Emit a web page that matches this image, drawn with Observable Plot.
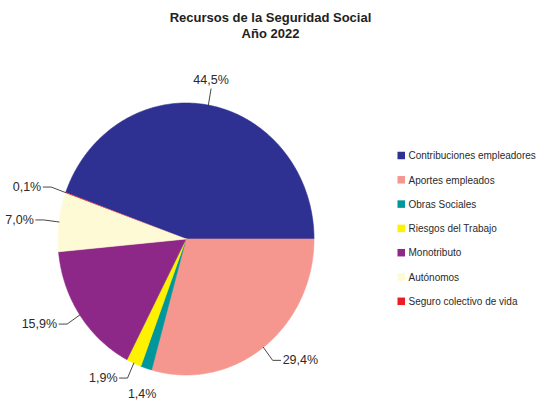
<!DOCTYPE html>
<html><head><meta charset="utf-8">
<script src="https://cdn.jsdelivr.net/npm/d3@7"></script>
<script src="https://cdn.jsdelivr.net/npm/@observablehq/plot@0.6"></script>
<style>
html,body{margin:0;padding:0;background:#fff;}
#chart svg{display:block;}
</style></head><body><div id="chart"></div>
<script>
// ---- data ----
const titleLines = ["Recursos de la Seguridad Social", "Año 2022"];
const categories = ["Contribuciones empleadores", "Aportes empleados", "Obras Sociales", "Riesgos del Trabajo", "Monotributo", "Autónomos", "Seguro colectivo de vida"];
const shares = [44.5, 29.4, 1.4, 1.9, 15.9, 7.0, 0.1];
const palette = ["#2E3192", "#F5978E", "#00969C", "#FFF200", "#8E2888", "#FFFAD6", "#ED1C24"];

// ---- layout ----
const W = 546, H = 403;
const cx = 185.5, cy = 238.5, rx = 128, ry = 136;
const font = "'Liberation Sans', Arial, sans-serif";
const fmt = v => v.toFixed(1).replace(".", ",") + "%";

const total = d3.sum(shares);
// first slice (Contribuciones) ends at 3 o'clock, slices run clockwise
const start = Math.PI / 2 - 2 * Math.PI * shares[0] / total;
const arcs = d3.pie().sort(null).value(d => d).startAngle(start).endAngle(start + 2 * Math.PI)(shares);
const pt = (a, k = 1) => ({x: cx + k * rx * Math.sin(a), y: cy - k * ry * Math.cos(a)});

const slices = arcs.map(a => {
  const pts = [{x: cx, y: cy}];
  const n = Math.max(2, Math.ceil((a.endAngle - a.startAngle) / (Math.PI / 360)));
  for (let j = 0; j <= n; j++) pts.push(pt(a.startAngle + (a.endAngle - a.startAngle) * j / n));
  pts.push({x: cx, y: cy});
  return pts;
});

// labels with leader lines
const leaders = [], labelsL = [], labelsR = [], labelsM = [];
arcs.forEach((a, i) => {
  const m = (a.startAngle + a.endAngle) / 2;
  const ux = Math.sin(m), uy = -Math.cos(m);
  const R = pt(m, 1), E = pt(m, 1.12);
  const text = fmt(shares[i]);
  if (Math.abs(ux) >= 0.35) {
    const s = Math.sign(ux);
    const T = {x: E.x + 8 * s, y: E.y};
    [R, E, T].forEach(p => leaders.push({...p, k: i}));
    (s > 0 ? labelsR : labelsL).push({x: T.x + 2 * s, y: T.y, text});
  } else if (uy < 0) {
    [R, E].forEach(p => leaders.push({...p, k: i}));
    labelsM.push({x: E.x, y: E.y - 9, text});
  } else {
    const P = pt(m, 1.2);
    labelsM.push({x: P.x + 4, y: P.y, text});
  }
});

// legend rows
const legTop = 155.5, legStep = 24.3, sw = 7.5, legX = 397.5;
const legend = categories.map((c, i) => ({
  name: c, color: palette[i],
  x1: legX, x2: legX + sw,
  y1: legTop + i * legStep - sw / 2, y2: legTop + i * legStep + sw / 2,
  tx: legX + sw + 3, ty: legTop + i * legStep
}));

const titles = titleLines.map((t, i) => ({text: t, x: 270, y: 17.5 + i * 16}));

const chart = Plot.plot({
  width: W, height: H, margin: 0,
  x: {domain: [0, W], range: [0, W], axis: null},
  y: {domain: [0, H], range: [0, H], axis: null},
  style: {fontFamily: font, background: "white"},
  marks: [
    ...slices.map((s, i) => Plot.line(s, {x: "x", y: "y", fill: palette[i], stroke: shares[i] >= 1 ? palette[i] : "none", strokeWidth: 0.6, curve: "linear"})),
    Plot.line(leaders, {x: "x", y: "y", z: "k", stroke: "#333", strokeWidth: 0.9, curve: "linear"}),
    Plot.text(labelsL, {x: "x", y: "y", text: "text", textAnchor: "end", fontSize: 12.5, fill: "#2a2a2a"}),
    Plot.text(labelsR, {x: "x", y: "y", text: "text", textAnchor: "start", fontSize: 12.5, fill: "#2a2a2a"}),
    Plot.text(labelsM, {x: "x", y: "y", text: "text", textAnchor: "middle", fontSize: 12.5, fill: "#2a2a2a"}),
    Plot.rect(legend, {x1: "x1", x2: "x2", y1: "y1", y2: "y2", fill: "color"}),
    Plot.text(legend, {x: "tx", y: "ty", text: "name", textAnchor: "start", fontSize: 10, fill: "#2a2a2a"}),
    Plot.text(titles, {x: "x", y: "y", text: "text", textAnchor: "middle", fontSize: 13, fontWeight: "bold", fill: "#222"})
  ]
});
document.getElementById("chart").appendChild(chart);
</script></body></html>
